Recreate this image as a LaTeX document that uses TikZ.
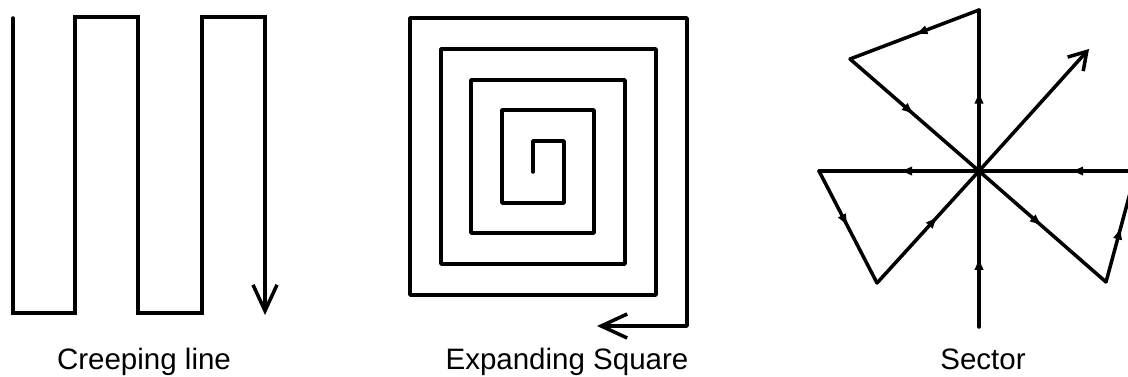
\documentclass[tikz,border=0pt]{standalone}
\usepackage{fontspec}
\setmainfont{Liberation Sans}
\usetikzlibrary{arrows.meta, decorations.markings}
\tikzset{
	patternline/.style={line width=2pt, line cap=round, line join=miter}
}
\tikzset{
	bigbarb/.style={-{Straight Barb[length=0.52cm, width=0.48cm, line width=2pt]}},
	smallbarb/.style={-{Straight Barb[length=0.34cm, width=0.42cm, line width=2pt]}},
	midarrow/.style={postaction={decorate}, decoration={markings,
	  mark=at position #1 with {\arrow{Latex[length=0.26cm, width=0.19cm]}}}},
	midarrow/.default=0.5,
	patternlabel/.style={font=\fontsize{16.8}{20}\selectfont, anchor=base}
}

\begin{document}
\begin{tikzpicture}[x=0.02cm, y=-0.02cm]
      \clip (0,0) rectangle (1128,376);
      \fill[white] (0,0) rectangle (1128,376);

      % creeping line
      \draw[patternline, bigbarb] (13,18) -- (13,313) -- (75,313) -- (75,17)
        -- (138,17) -- (138,313) -- (202,313) -- (202,17) -- (265,17) -- (265,315);
      \node[patternlabel] (creeplabel) at (144,369) {Creeping line};

      % expanding square, spiralling out from the middle
      \draw[patternline, bigbarb, line join=round] (533,172) -- (533,141) -- (564,141)
        -- (564,203) -- (502,203) -- (502,110) -- (594,110) -- (594,233)
        -- (471,233) -- (471,80) -- (625,80) -- (625,264) -- (441,264)
        -- (441,49) -- (656,49) -- (656,295) -- (410,295) -- (410,18)
        -- (687,18) -- (687,326) -- (597,326);
      \node[patternlabel] (squarelabel) at (567,369) {Expanding Square};

      % sector search points
      \coordinate (c) at (979,171);
      \coordinate (top) at (979,10);
      \coordinate (bot) at (979,327);
      \coordinate (ul) at (850,59);
      \coordinate (lr) at (1106,282);
      \coordinate (rt) at (1136,171);
      \coordinate (lf) at (819,171);
      \coordinate (ll) at (877,283);
      \coordinate (ur) at (1089,49);

      % legs of the sector search
      \draw[patternline, midarrow=0.45] (bot) -- (c);
      \draw[patternline, midarrow] (c) -- (top);
      \draw[patternline, midarrow] (top) -- (ul);
      \draw[patternline, midarrow] (ul) -- (c);
      \draw[patternline, midarrow] (c) -- (lr);
      \draw[patternline, midarrow] (lr) -- (rt);
      \draw[patternline, midarrow=0.42] (rt) -- (c);
      \draw[patternline, midarrow] (c) -- (lf);
      \draw[patternline, midarrow] (lf) -- (ll);
      \draw[patternline, midarrow=0.6] (ll) -- (c);
      \draw[patternline, smallbarb] (c) -- (ur);
      \node[patternlabel] (sectorlabel) at (983,369) {Sector};
    \end{tikzpicture}
\end{document}
